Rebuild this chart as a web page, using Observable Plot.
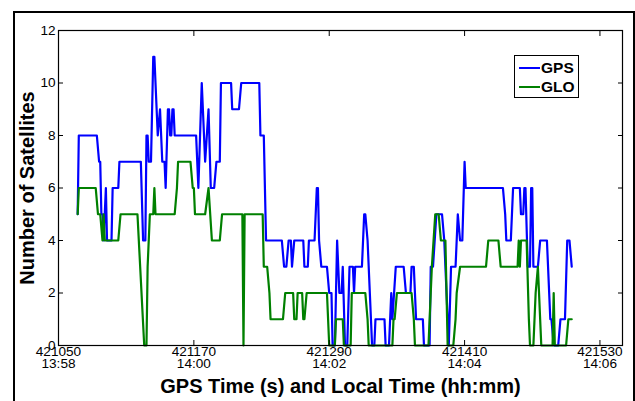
<!DOCTYPE html>
<html>
<head>
<meta charset="utf-8">
<script src="https://cdn.jsdelivr.net/npm/d3@7"></script>
<script src="https://cdn.jsdelivr.net/npm/@observablehq/plot@0.6"></script>
<style>
  body { margin: 0; background: #fff; }
  #wrap { position: relative; width: 635px; height: 401px; overflow: hidden; font-family: "Liberation Sans", Arial, Helvetica, sans-serif; }
  #border { position: absolute; left: 13px; top: 11px; width: 618px; height: 430px; border: 2px solid #000; pointer-events: none; }
  #legend { position: absolute; left: 514px; top: 55px; width: 63px; height: 41px; border: 1.5px solid #000; background: #fff; }
  #legend .row { position: absolute; left: 4px; height: 18px; display: flex; align-items: center; font-weight: bold; font-size: 15.5px; color: #000; }
  #legend svg { display: block; margin-right: 1px; }
</style>
</head>
<body>
<div id="wrap">
  <div id="chart"></div>
  <div id="border"></div>
  <div id="legend"></div>
</div>
<script>
// Satellites tracked per constellation, as breakpoints (GPS seconds of week, count)
const gpsTime = [
  421067, 421068, 421084, 421086, 421087, 421088, 421089, 421090, 421092, 421093,
  421097, 421098, 421103, 421104, 421123, 421125, 421127, 421128, 421129, 421130,
  421132, 421134, 421135, 421138, 421140, 421141, 421142, 421144, 421145, 421147,
  421148, 421149, 421150, 421151, 421152, 421153, 421172, 421173, 421174, 421177,
  421180, 421183, 421185, 421188, 421190, 421193, 421194, 421203, 421204, 421210,
  421212, 421228, 421229, 421232, 421234, 421248, 421250, 421252, 421254, 421256,
  421257, 421259, 421267, 421268, 421271, 421272, 421277, 421279, 421280, 421281,
  421283, 421288, 421290, 421292, 421293, 421295, 421297, 421299, 421301, 421302,
  421304, 421306, 421308, 421311, 421312, 421313, 421319, 421321, 421322, 421324,
  421326, 421328, 421330, 421331, 421339, 421340, 421343, 421345, 421346, 421349,
  421356, 421358, 421362, 421363, 421365, 421367, 421373, 421374, 421379, 421380,
  421382, 421385, 421390, 421392, 421393, 421396, 421398, 421402, 421404, 421406,
  421408, 421410, 421411, 421444, 421446, 421447, 421451, 421453, 421459, 421460,
  421462, 421463, 421464, 421466, 421468, 421469, 421470, 421471, 421475, 421477,
  421483, 421486, 421487, 421489, 421493, 421495, 421499, 421501, 421503, 421505
];
const gpsCount = [
  5, 8, 8, 7, 7, 5, 5, 4, 6, 4,
  4, 6, 6, 7, 7, 4, 4, 8, 8, 7,
  7, 11, 11, 8, 9, 8, 7, 7, 6, 9,
  9, 8, 8, 9, 9, 8, 8, 7, 6, 10,
  7, 9, 6, 6, 7, 7, 10, 10, 9, 9,
  10, 10, 8, 8, 4, 4, 3, 3, 4, 4,
  3, 4, 4, 3, 3, 4, 4, 6, 6, 4,
  3, 3, 2, 2, 0, 0, 4, 2, 2, 3,
  0, 0, 3, 3, 2, 3, 3, 5, 5, 4,
  2, 0, 0, 1, 1, 0, 0, 2, 1, 3,
  3, 2, 2, 3, 3, 1, 1, 0, 0, 3,
  3, 5, 5, 4, 3, 0, 3, 3, 5, 4,
  4, 7, 6, 6, 5, 4, 4, 6, 6, 5,
  5, 6, 6, 3, 3, 6, 6, 3, 3, 4,
  4, 1, 1, 0, 0, 1, 1, 4, 4, 3
];
const gloTime = [
  421067, 421068, 421083, 421085, 421087, 421089, 421090, 421091, 421103, 421105,
  421120, 421126, 421128, 421129, 421131, 421134, 421135, 421136, 421153, 421155,
  421156, 421167, 421169, 421170, 421171, 421180, 421183, 421186, 421193, 421195,
  421213, 421214, 421215, 421231, 421232, 421235, 421237, 421238, 421249, 421251,
  421258, 421259, 421261, 421262, 421266, 421267, 421268, 421270, 421288, 421290,
  421295, 421296, 421302, 421303, 421309, 421310, 421322, 421324, 421325, 421346,
  421347, 421348, 421350, 421363, 421365, 421366, 421378, 421380, 421381, 421384,
  421387, 421389, 421393, 421395, 421400, 421402, 421403, 421406, 421429, 421431,
  421440, 421442, 421457, 421458, 421459, 421460, 421465, 421467, 421468, 421471,
  421473, 421475, 421476, 421478, 421488, 421489, 421490, 421500, 421502, 421505
];
const gloCount = [
  5, 6, 6, 5, 5, 4, 5, 4, 4, 5,
  5, 0, 0, 3, 5, 5, 6, 5, 5, 6,
  7, 7, 6, 6, 5, 5, 6, 4, 4, 5,
  5, 0, 5, 5, 3, 3, 2, 1, 1, 2,
  2, 1, 1, 2, 2, 1, 1, 2, 2, 0,
  0, 1, 1, 0, 0, 2, 2, 1, 0, 0,
  1, 1, 2, 2, 1, 0, 0, 2, 3, 5,
  5, 4, 4, 0, 0, 1, 2, 3, 3, 4,
  4, 3, 3, 4, 3, 4, 4, 1, 0, 0,
  2, 3, 2, 0, 0, 2, 0, 0, 1, 1
];

// Axis ticks: GPS time with the matching local clock time underneath
const xTicks = [421050, 421170, 421290, 421410, 421530];
const localTimes = ["13:58", "14:00", "14:02", "14:04", "14:06"];
const yTicks = [0, 2, 4, 6, 8, 10, 12];

const seriesNames = ["GPS", "GLO"];
const seriesColors = ["#0000ff", "#008000"];

const gpsRows = gpsTime.map((t, i) => ({t, n: gpsCount[i]}));
const gloRows = gloTime.map((t, i) => ({t, n: gloCount[i]}));
const tickText = new Map(xTicks.map((t, i) => [t, `${t}\n${localTimes[i]}`]));

const font = "Liberation Sans, Arial, Helvetica, sans-serif";

const chart = Plot.plot({
  width: 635,
  height: 401,
  marginLeft: 58,
  marginRight: 13,
  marginTop: 30,
  marginBottom: 56,
  style: {fontFamily: font, background: "transparent", color: "#000"},
  x: {domain: [421050, 421550]},
  y: {domain: [0, 12]},
  marks: [
    Plot.line(gpsRows, {x: "t", y: "n", stroke: seriesColors[0], strokeWidth: 2.2}),
    Plot.line(gloRows, {x: "t", y: "n", stroke: seriesColors[1], strokeWidth: 2.2}),
    Plot.frame({stroke: "#000", strokeWidth: 1.2}),
    // inward tick marks on all four sides
    Plot.axisX({anchor: "bottom", ticks: xTicks, tickSize: -5, tickFormat: () => "", label: null}),
    Plot.axisX({anchor: "top", ticks: xTicks, tickSize: -5, tickFormat: () => "", label: null}),
    Plot.axisY({anchor: "left", ticks: yTicks, tickSize: -5, tickFormat: () => "", label: null}),
    Plot.axisY({anchor: "right", ticks: yTicks, tickSize: -5, tickFormat: () => "", label: null}),
    // tick labels
    Plot.axisX({anchor: "bottom", ticks: xTicks, tickSize: 0, tickPadding: 2, tickFormat: (d) => tickText.get(d),
      fontSize: 13.6, lineHeight: 0.88, label: null}),
    Plot.axisY({anchor: "left", ticks: yTicks, tickSize: 0, tickPadding: 3, fontSize: 13.6, label: null}),
    // axis titles
    Plot.text(["GPS Time (s) and Local Time (hh:mm)"], {frameAnchor: "bottom", dy: 41, lineAnchor: "middle",
      textAnchor: "middle", fontSize: 20, fontWeight: "bold"}),
    Plot.text(["Number of Satellites"], {frameAnchor: "left", rotate: -90, dx: -31, lineAnchor: "middle",
      textAnchor: "middle", fontSize: 20, fontWeight: "bold"})
  ]
});
document.getElementById("chart").appendChild(chart);

// legend box
const legend = document.getElementById("legend");
seriesNames.forEach((name, i) => {
  const row = document.createElement("div");
  row.className = "row";
  row.style.top = (3 + i * 19) + "px";
  row.innerHTML = `<svg width="21" height="4"><line x1="0" y1="2" x2="21" y2="2" stroke="${seriesColors[i]}" stroke-width="2"/></svg><span>${name}</span>`;
  legend.appendChild(row);
});
</script>
</body>
</html>
